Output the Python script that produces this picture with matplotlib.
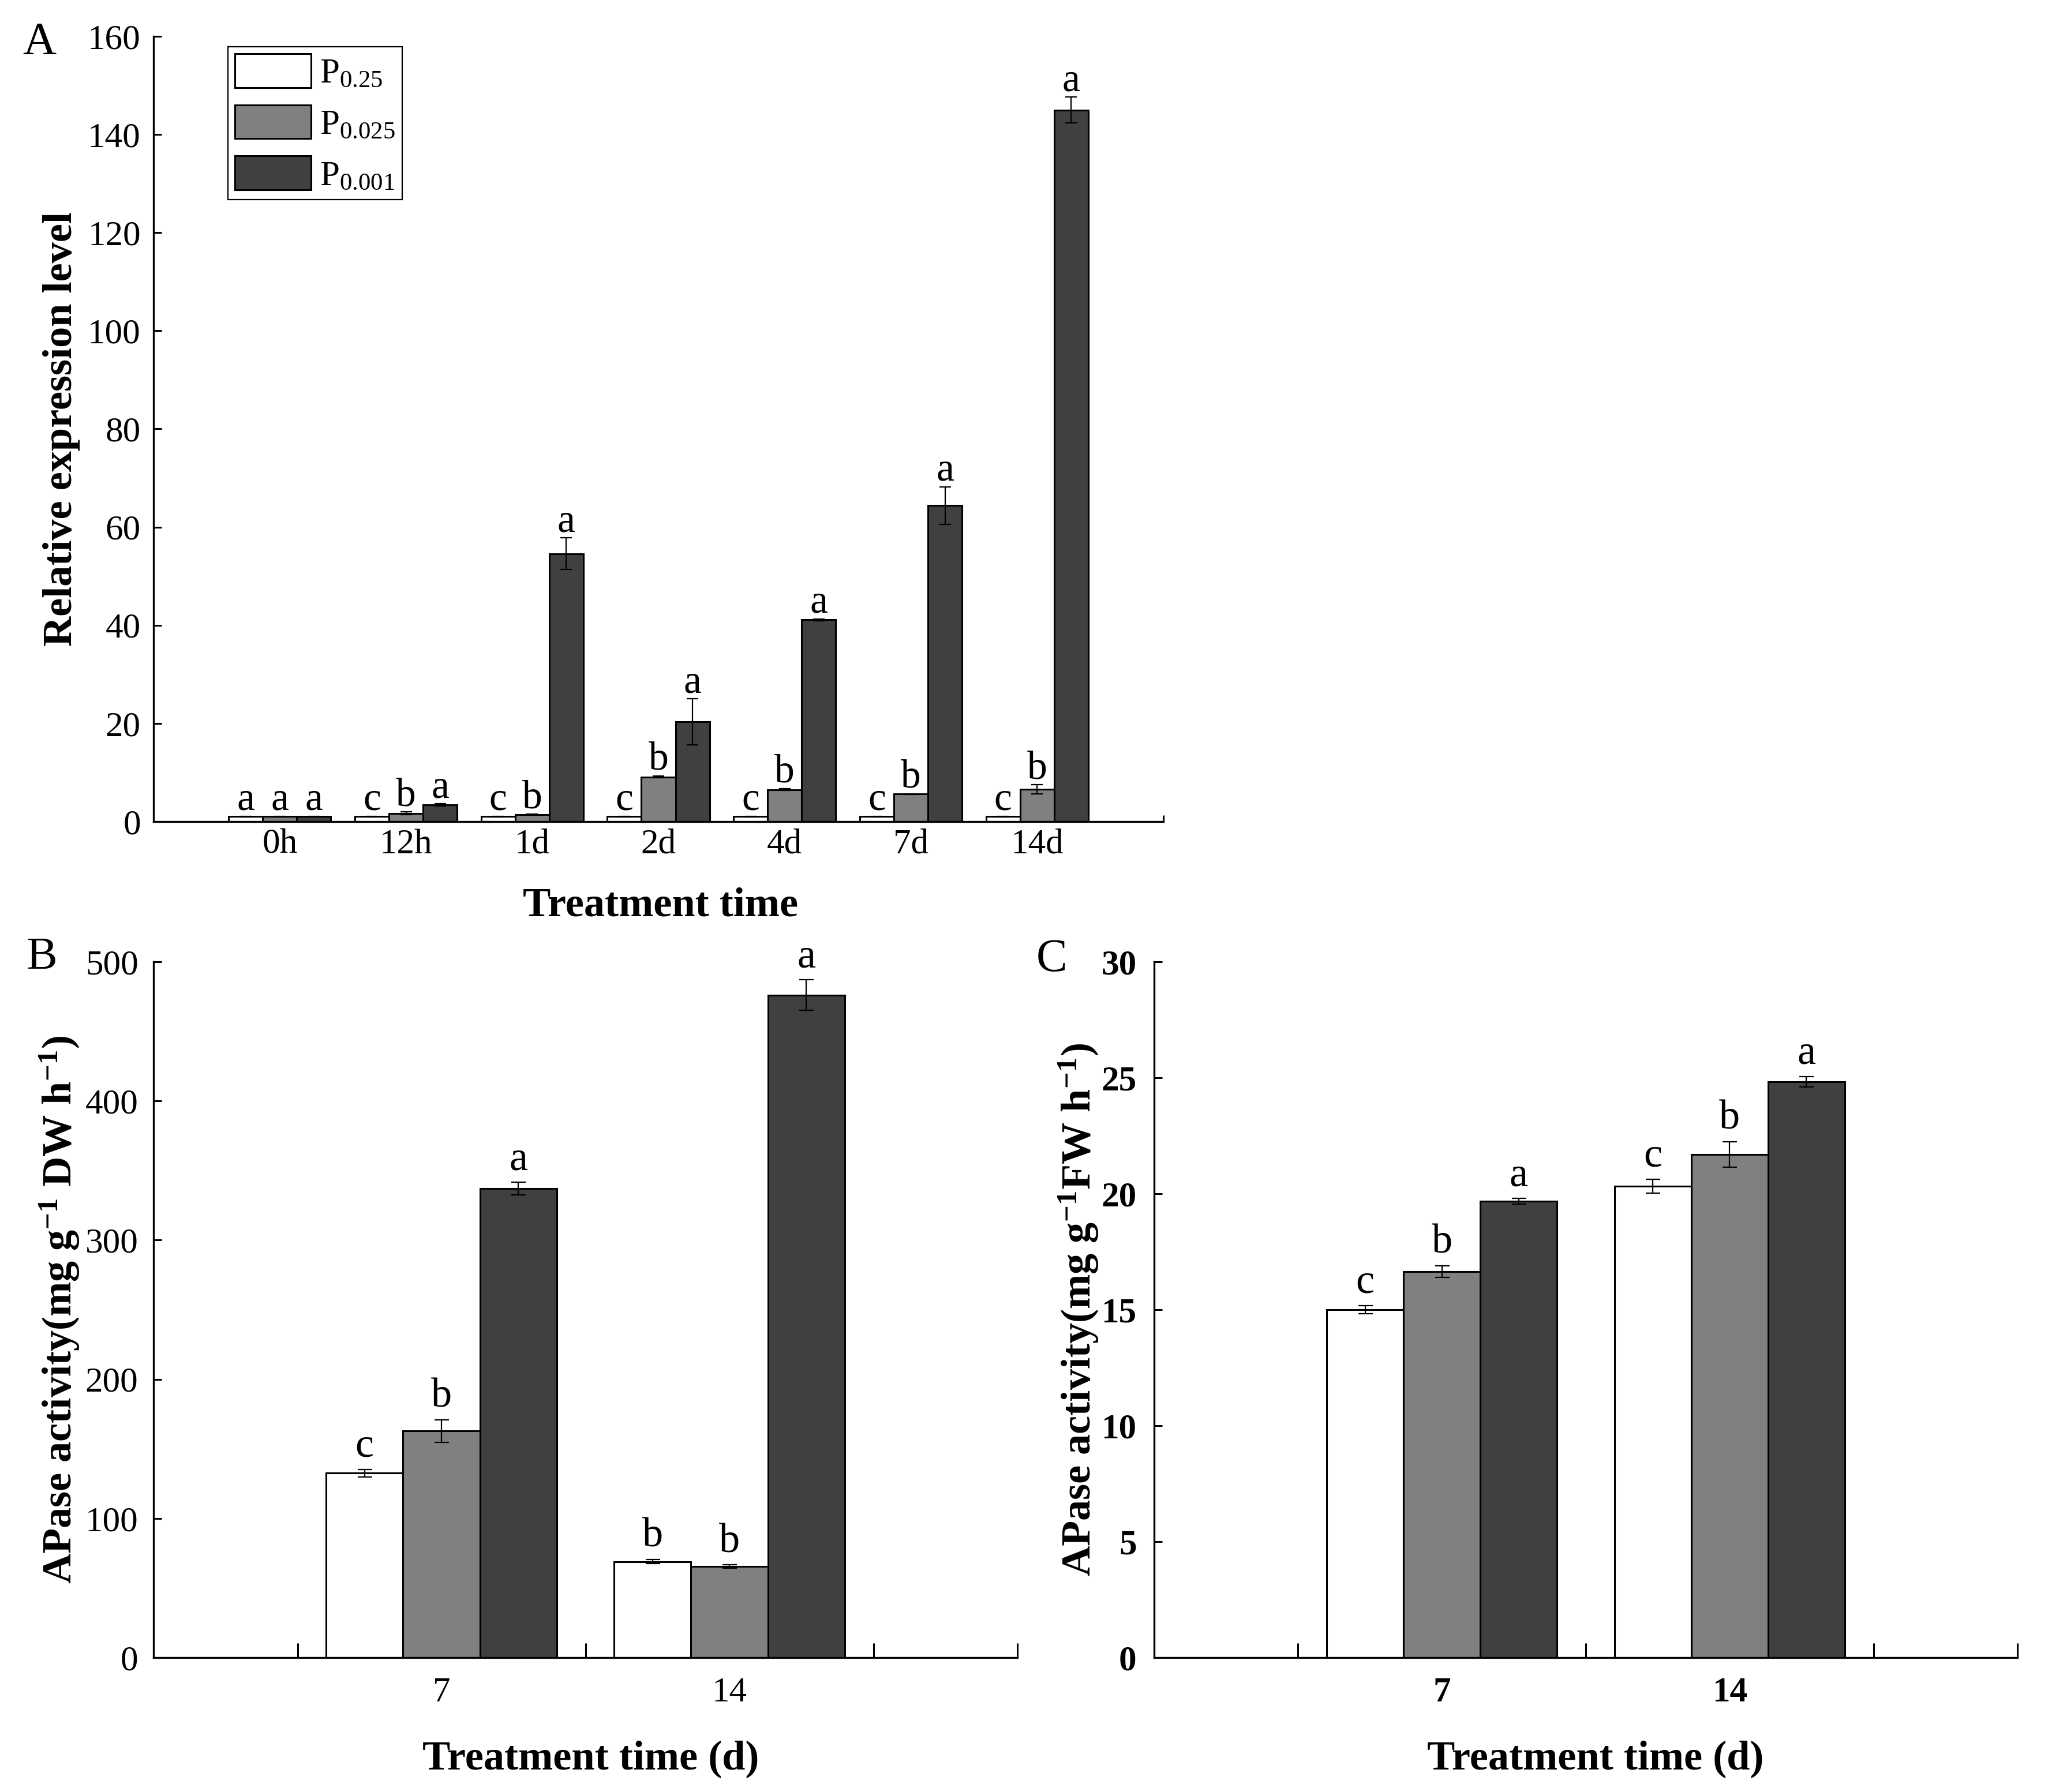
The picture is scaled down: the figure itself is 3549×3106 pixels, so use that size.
import matplotlib
matplotlib.use('Agg')
import matplotlib.pyplot as plt
import numpy as np
from matplotlib.patches import Patch

plt.rcParams['font.family'] = ['Liberation Serif', 'DejaVu Serif']
plt.rcParams['mathtext.fontset'] = 'custom'
plt.rcParams['mathtext.rm'] = 'Liberation Serif'
plt.rcParams['mathtext.it'] = 'Liberation Serif:italic'
plt.rcParams['mathtext.bf'] = 'Liberation Serif:bold'

# ---- panel A: relative expression ----
times_a = ['0h', '12h', '1d', '2d', '4d', '7d', '14d']
a_p025 = [1.0, 1.0, 1.0, 1.0, 1.0, 1.0, 1.0]
a_p025_err = [0.05, 0.05, 0.05, 0.05, 0.05, 0.05, 0.05]
a_p0025 = [1.0, 1.7, 1.4, 9.1, 6.5, 5.6, 6.6]
a_p0025_err = [0.05, 0.25, 0.1, 0.2, 0.2, 0.1, 0.9]
a_p0001 = [1.0, 3.4, 54.6, 20.3, 41.1, 64.4, 145.0]
a_p0001_err = [0.05, 0.2, 3.2, 4.7, 0.2, 3.8, 2.6]
a_letters = [['a', 'c', 'c', 'c', 'c', 'c', 'c'],
             ['a', 'b', 'b', 'b', 'b', 'b', 'b'],
             ['a', 'a', 'a', 'a', 'a', 'a', 'a']]

# ---- panel B: APase activity (DW) ----
days = ['7', '14']
b_p025 = [132.5, 69.0]
b_p025_err = [2.6, 1.5]
b_p0025 = [162.8, 65.4]
b_p0025_err = [8.0, 1.2]
b_p0001 = [337.0, 476.0]
b_p0001_err = [4.5, 11.0]
b_letters = [['c', 'b'], ['b', 'b'], ['a', 'a']]

# ---- panel C: APase activity (FW) ----
c_p025 = [15.0, 20.33]
c_p025_err = [0.18, 0.3]
c_p0025 = [16.65, 21.7]
c_p0025_err = [0.25, 0.55]
c_p0001 = [19.67, 24.83]
c_p0001_err = [0.12, 0.22]
c_letters = [['c', 'c'], ['b', 'b'], ['a', 'a']]

labels = [r'P$_{\mathrm{0.25}}$', r'P$_{\mathrm{0.025}}$', r'P$_{\mathrm{0.001}}$']
colors = ['white', '#808080', '#404040']

W, H = 3549, 3106
fig = plt.figure(figsize=(W / 100, H / 100), dpi=100)


def box(l, r, t, b):
    return [l / W, 1 - b / H, (r - l) / W, (b - t) / H]


def draw_bars(ax, x, vals, errs, letters, width, capsize, off, lsize, bold=False):
    for i in range(3):
        xi = x + (i - 1) * width
        ax.bar(xi, vals[i], width, color=colors[i], edgecolor='black',
               linewidth=2.2, zorder=2)
        ax.errorbar(xi, vals[i], yerr=errs[i], fmt='none', ecolor='black',
                    elinewidth=1.6, capsize=capsize, capthick=1.6, zorder=3)
        for j in range(len(x)):
            ax.annotate(letters[i][j], (xi[j], vals[i][j] + errs[i][j]),
                        xytext=(0, off), textcoords='offset points',
                        ha='center', va='baseline', fontsize=lsize,
                        fontweight='bold' if bold else 'normal')


def style(ax):
    for s in ['top', 'right']:
        ax.spines[s].set_visible(False)
    for s in ['left', 'bottom']:
        ax.spines[s].set_linewidth(2.4)
    ax.tick_params(axis='y', direction='in', length=10, width=2.2)


# Panel A
axA = fig.add_axes(box(266, 2016, 63, 1424))
xa = np.arange(len(times_a))
draw_bars(axA, xa, [a_p025, a_p0025, a_p0001],
          [a_p025_err, a_p0025_err, a_p0001_err], a_letters,
          0.27, 7, 8, 50)
style(axA)
axA.set_xlim(-1, 7)
axA.set_ylim(0, 160)
axA.set_yticks(np.arange(0, 161, 20))
axA.set_xticks(xa)
axA.set_xticklabels(times_a)
axA.set_xticks([7], minor=True)
axA.tick_params(axis='x', which='major', length=0, pad=9, labelsize=44)
axA.tick_params(axis='x', which='minor', direction='in', length=8, width=2.2)
axA.tick_params(axis='y', labelsize=44, pad=16)
axA.set_xlabel('Treatment time', fontsize=52, fontweight='bold', va='center')
axA.xaxis.set_label_coords(0.502, -0.107)
axA.set_ylabel('Relative expression level', fontsize=52, fontweight='bold', va='center')
axA.yaxis.set_label_coords(-0.091, 0.5)
handles = [Patch(facecolor=c, edgecolor='black', linewidth=2.2) for c in colors]
leg = axA.legend(handles, labels, loc='upper left', bbox_to_anchor=(0.0737, 0.987),
                 fontsize=44, frameon=True, fancybox=False, edgecolor='black',
                 framealpha=1, handlelength=2.15, handleheight=1.1,
                 handletextpad=0.25, labelspacing=0.42, borderpad=0.2,
                 borderaxespad=0)
leg.get_frame().set_linewidth(1.6)

# Panel B
axB = fig.add_axes(box(266, 1763, 1667, 2873))
xb = np.array([1, 2])
draw_bars(axB, xb, [b_p025, b_p0025, b_p0001],
          [b_p025_err, b_p0025_err, b_p0001_err], b_letters,
          0.267, 9, 16, 52)
style(axB)
axB.set_xlim(0, 3)
axB.set_ylim(0, 500)
axB.set_yticks(np.arange(0, 501, 100))
axB.set_xticks(xb)
axB.set_xticklabels(days)
axB.set_xticks([0.5, 1.5, 2.5, 3], minor=True)
axB.tick_params(axis='x', which='both', direction='in', length=18, width=2.2,
                pad=24, labelsize=44)
axB.tick_params(axis='y', labelsize=44, pad=19)
axB.set_xlabel('Treatment time (d)', fontsize=52, fontweight='bold', va='center')
axB.xaxis.set_label_coords(0.506, -0.146)
axB.set_ylabel(r'APase activity(mg g$^{\mathbf{-1}}$ DW h$^{\mathbf{-1}}$)',
               fontsize=52, fontweight='bold', va='center')
axB.yaxis.set_label_coords(-0.109, 0.5)

# Panel C
axC = fig.add_axes(box(2000, 3496, 1667, 2873))
draw_bars(axC, xb, [c_p025, c_p0025, c_p0001],
          [c_p025_err, c_p0025_err, c_p0001_err], c_letters,
          0.267, 9, 16, 52)
style(axC)
axC.set_xlim(0, 3)
axC.set_ylim(0, 30)
axC.set_yticks(np.arange(0, 31, 5))
axC.set_xticks(xb)
axC.set_xticklabels(days, fontweight='bold')
axC.set_xticks([0.5, 1.5, 2.5, 3], minor=True)
axC.tick_params(axis='x', which='both', direction='in', length=18, width=2.2,
                pad=24, labelsize=44)
axC.tick_params(axis='y', labelsize=44, pad=22)
for t in axC.get_yticklabels():
    t.set_fontweight('bold')
axC.set_xlabel('Treatment time (d)', fontsize=52, fontweight='bold', va='center')
axC.xaxis.set_label_coords(0.511, -0.146)
axC.set_ylabel(r'APase activity(mg g$^{\mathbf{-1}}$FW h$^{\mathbf{-1}}$)',
               fontsize=52, fontweight='bold', va='center')
axC.yaxis.set_label_coords(-0.088, 0.5)

# panel letters
fig.text(68 / W, 1 - 75 / H, 'A', fontsize=58, ha='center', va='center')
fig.text(72 / W, 1 - 1660 / H, 'B', fontsize=58, ha='center', va='center')
fig.text(1823 / W, 1 - 1664 / H, 'C', fontsize=58, ha='center', va='center')

fig.savefig('out.png', dpi=100)
